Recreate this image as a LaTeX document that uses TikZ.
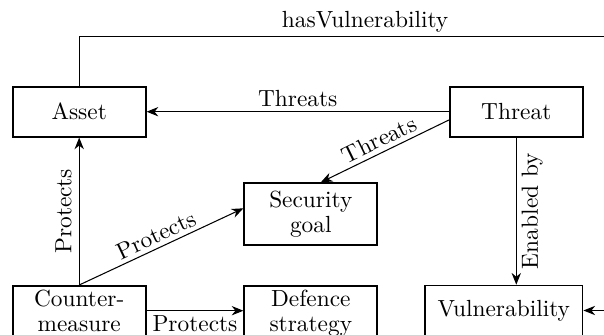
\documentclass[tikz,border=0pt]{standalone}
\usetikzlibrary{arrows.meta,calc}
\begin{document}
\begin{tikzpicture}[x=0.4283pt,y=-0.4283pt,
  box/.style={draw, line width=0.75pt, minimum width=57pt, minimum height=21.4pt,
    align=center, inner sep=3.33pt, font=\fontsize{10}{10.8}\selectfont},
  lowbox/.style={box, anchor=north, inner ysep=1.9pt},
  link/.style={line width=0.45pt, -{Stealth[length=5pt,width=4pt,inset=1.6pt]}},
  lbl/.style={inner sep=1.8pt}
]
\useasboundingbox (0,0) rectangle (604,334);
\clip (0,0) rectangle (604,334);

% concepts
\node[box] (as) at (79.2,111.7) {Asset};
\node[box] (th) at (516.3,111.7) {Threat};
\node[box] (sg) at (310.8,214.2) {Security\\goal};
\node[lowbox] (cm) at (79.2,285) {Counter-\\measure};
\node[lowbox] (ds) at (310.8,285) {Defence\\strategy};
\node[box, minimum width=67.5pt] (vu) at (503.8,310.5) {Vulnerability};

% relations
\draw[link] (th.west) -- node[above, lbl] {Threats} (as.east);
\draw[link] ($(th.west)+(0,8.3)$) -- node[above, sloped, lbl] {Threats} ($(sg.north)+(10,0)$);
\draw[link] (th.south) -- node[midway, rotate=90, anchor=north, inner sep=2.1pt] {Enabled by} (th.south |- vu.north);
\draw[link] (cm.north) -- node[midway, rotate=90, anchor=south, inner sep=3pt] {Protects} (as.south);
\draw[link] (cm.north) -- node[above, sloped, lbl] {Protects} ($(sg.west)+(0,-5.9)$);
\draw[link] ($(cm.north east)+(0,25.7)$) -- node[below, lbl] {Protects} ($(ds.north west)+(0,25.7)$);
\coordinate (hvcorner) at (651,36.7);
\draw[link] (as.north) |- node[pos=0.75, above, lbl] {hasVulnerability} (hvcorner) |- (vu.east);
\end{tikzpicture}
\end{document}
